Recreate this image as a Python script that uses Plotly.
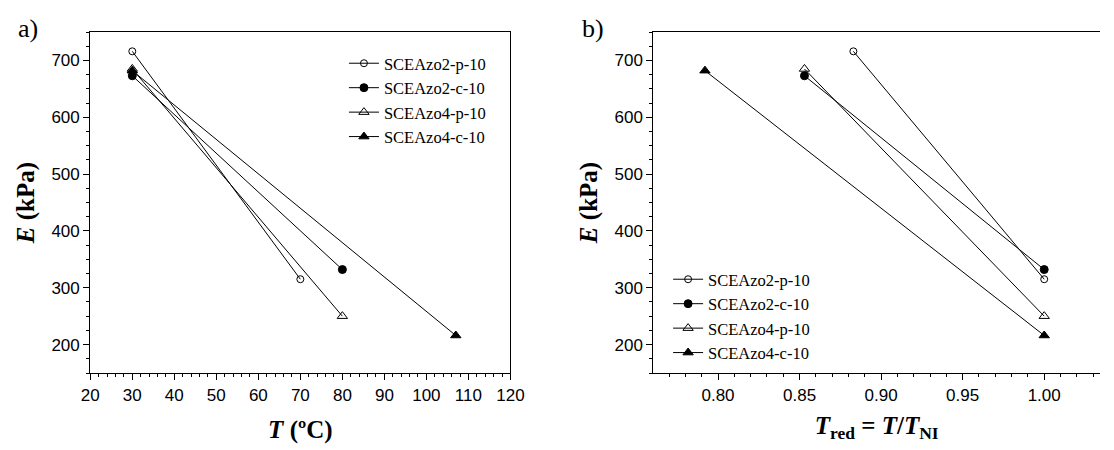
import plotly.graph_objects as go

series = ["SCEAzo2-p-10", "SCEAzo2-c-10", "SCEAzo4-p-10", "SCEAzo4-c-10"]
T_vals = [[30, 70], [30, 80], [30, 80], [30, 107]]
Tred_vals = [[0.883, 1.00], [0.853, 1.00], [0.853, 1.00], [0.792, 1.00]]
E_vals = [[716, 315], [673, 332], [685, 250], [682, 216]]
symbols = ["circle-open", "circle", "triangle-up-open", "triangle-up"]
sizes = [7, 8, 9, 9]

fig = go.Figure()
for i, name in enumerate(series):
    common = dict(mode="lines+markers", name=name,
                  line=dict(color="black", width=1),
                  marker=dict(symbol=symbols[i], size=sizes[i], color="black",
                              line=dict(color="black", width=1)))
    fig.add_trace(go.Scatter(x=T_vals[i], y=E_vals[i], xaxis="x", yaxis="y",
                             legend="legend", **common))
    fig.add_trace(go.Scatter(x=Tred_vals[i], y=E_vals[i], xaxis="x2", yaxis="y2",
                             legend="legend2", **common))

W, H = 1114, 450
serif = "Liberation Serif"
tickfont = dict(family="Liberation Sans", size=17, color="black")
titlefont = dict(family=serif, size=25, color="black")
legfont = dict(family=serif, size=16.5, color="black")
axbase = dict(showline=True, linecolor="black", linewidth=1.2, ticks="outside",
              ticklen=6, tickwidth=1.2, tickcolor="black", showgrid=False,
              zeroline=False, tickfont=tickfont)

fig.update_layout(
    width=W, height=H, margin=dict(l=0, r=0, t=0, b=0),
    paper_bgcolor="white", plot_bgcolor="white",
    xaxis=dict(axbase, domain=[83 / W, 512 / W], range=[20, 120], dtick=10,
               mirror=True, anchor="y",
               minor=dict(dtick=2, ticks="outside", ticklen=3, tickcolor="black"),
               title=dict(text="<b><i>T</i> (ºC)</b>", font=titlefont, standoff=16)),
    yaxis=dict(axbase, domain=[(H - 373) / H, (H - 32) / H], range=[150, 750],
               tickvals=[200, 300, 400, 500, 600, 700], mirror=True, anchor="x",
               minor=dict(dtick=25, tick0=150, ticks="outside", ticklen=3, tickcolor="black"),
               title=dict(text="<b><i>E</i> (kPa)</b>", font=titlefont, standoff=9)),
    xaxis2=dict(axbase, domain=[658 / W, 1.0], range=[0.7604, 1.0342],
                tickvals=[0.80, 0.85, 0.90, 0.95, 1.00], tickformat=".2f",
                mirror=True, anchor="y2",
                minor=dict(dtick=0.01, tick0=0.76, ticks="outside", ticklen=3, tickcolor="black"),
                title=dict(text="<b><i>T</i><sub>red</sub> = <i>T</i>/<i>T</i><sub>NI</sub></b>",
                           font=titlefont, standoff=12)),
    yaxis2=dict(axbase, domain=[(H - 373) / H, (H - 32) / H], range=[150, 750],
                tickvals=[200, 300, 400, 500, 600, 700], mirror=False, anchor="x2",
                minor=dict(dtick=25, tick0=150, ticks="outside", ticklen=3, tickcolor="black"),
                title=dict(text="<b><i>E</i> (kPa)</b>", font=titlefont, standoff=9)),
    legend=dict(x=342 / W, y=(H - 46) / H, xanchor="left", yanchor="top",
                bgcolor="rgba(0,0,0,0)", borderwidth=0, font=legfont,
                tracegroupgap=0),
    legend2=dict(x=673 / W, y=(H - 262) / H, xanchor="left", yanchor="top",
                 bgcolor="rgba(0,0,0,0)", borderwidth=0, font=legfont,
                 tracegroupgap=0),
    annotations=[
        dict(text="a)", x=7 / W, y=(H - 12) / H, xref="paper", yref="paper",
             xanchor="left", yanchor="top", showarrow=False,
             font=dict(family=serif, size=26, color="black")),
        dict(text="b)", x=583 / W, y=(H - 12) / H, xref="paper", yref="paper",
             xanchor="left", yanchor="top", showarrow=False,
             font=dict(family=serif, size=26, color="black")),
    ],
)

fig.write_html("out.html")
